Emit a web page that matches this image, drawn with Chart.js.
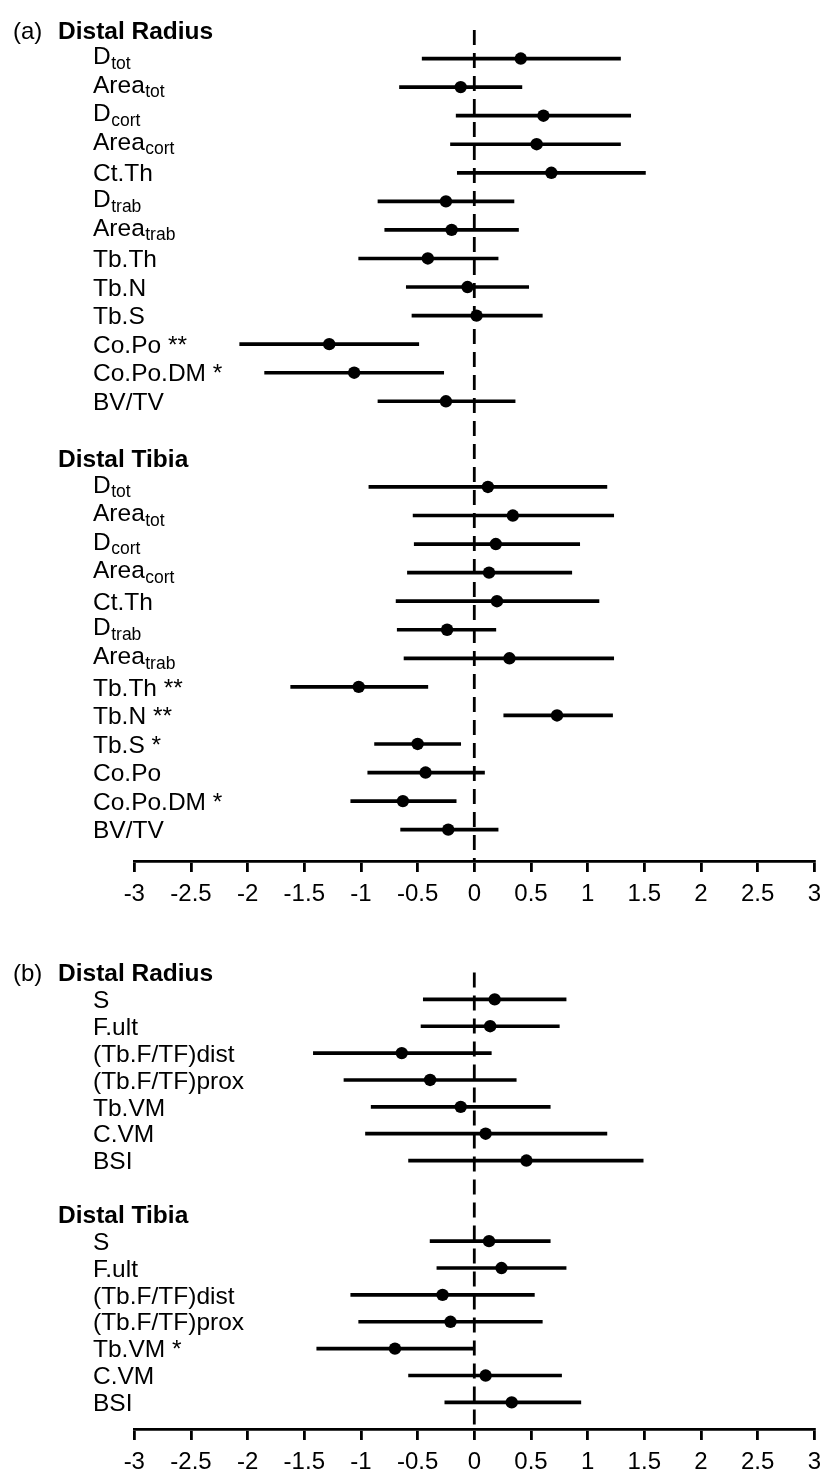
<!DOCTYPE html>
<html>
<head>
<meta charset="utf-8">
<script src="https://cdn.jsdelivr.net/npm/chart.js@4.4.1/dist/chart.umd.min.js"></script>
<style>
  body { margin: 0; background: #fff; }
  #wrap { position: relative; width: 822px; height: 1484px; }
  canvas { position: absolute; left: 0; }
</style>
</head>
<body>
<div id="wrap">
  <canvas id="chartA" width="822" height="916" style="top:0"></canvas>
  <canvas id="chartB" width="822" height="568" style="top:916px"></canvas>
</div>
<script>
// x axis
const tickValues = [-3, -2.5, -2, -1.5, -1, -0.5, 0, 0.5, 1, 1.5, 2, 2.5, 3];
const tickLabels = ['-3', '-2.5', '-2', '-1.5', '-1', '-0.5', '0', '0.5', '1', '1.5', '2', '2.5', '3'];
const refValue = 0;

// (a) Distal Radius
const aRadiusLabels = ['D_tot', 'Area_tot', 'D_cort', 'Area_cort', 'Ct.Th', 'D_trab', 'Area_trab',
  'Tb.Th', 'Tb.N', 'Tb.S', 'Co.Po **', 'Co.Po.DM *', 'BV/TV'];
const aRadiusEst = [0.41, -0.12, 0.61, 0.55, 0.68, -0.25, -0.20, -0.41, -0.06, 0.02, -1.28, -1.06, -0.25];
const aRadiusLo  = [-0.46, -0.66, -0.16, -0.21, -0.15, -0.85, -0.79, -1.02, -0.60, -0.55, -2.07, -1.85, -0.85];
const aRadiusHi  = [1.29, 0.42, 1.38, 1.29, 1.51, 0.35, 0.39, 0.21, 0.48, 0.60, -0.49, -0.27, 0.36];

// (a) Distal Tibia
const aTibiaLabels = ['D_tot', 'Area_tot', 'D_cort', 'Area_cort', 'Ct.Th', 'D_trab', 'Area_trab',
  'Tb.Th **', 'Tb.N **', 'Tb.S *', 'Co.Po', 'Co.Po.DM *', 'BV/TV'];
const aTibiaEst = [0.12, 0.34, 0.19, 0.13, 0.20, -0.24, 0.31, -1.02, 0.73, -0.50, -0.43, -0.63, -0.23];
const aTibiaLo  = [-0.93, -0.54, -0.53, -0.59, -0.69, -0.68, -0.62, -1.62, 0.26, -0.88, -0.94, -1.09, -0.65];
const aTibiaHi  = [1.17, 1.23, 0.93, 0.86, 1.10, 0.19, 1.23, -0.41, 1.22, -0.12, 0.09, -0.16, 0.21];

// (b) Distal Radius
const bRadiusLabels = ['S', 'F.ult', '(Tb.F/TF)dist', '(Tb.F/TF)prox', 'Tb.VM', 'C.VM', 'BSI'];
const bRadiusEst = [0.18, 0.14, -0.64, -0.39, -0.12, 0.10, 0.46];
const bRadiusLo  = [-0.45, -0.47, -1.42, -1.15, -0.91, -0.96, -0.58];
const bRadiusHi  = [0.81, 0.75, 0.15, 0.37, 0.67, 1.17, 1.49];

// (b) Distal Tibia
const bTibiaLabels = ['S', 'F.ult', '(Tb.F/TF)dist', '(Tb.F/TF)prox', 'Tb.VM *', 'C.VM', 'BSI'];
const bTibiaEst = [0.13, 0.24, -0.28, -0.21, -0.70, 0.10, 0.33];
const bTibiaLo  = [-0.39, -0.33, -1.09, -1.02, -1.39, -0.58, -0.26];
const bTibiaHi  = [0.67, 0.81, 0.53, 0.60, 0.00, 0.77, 0.94];

const FONT = '"Liberation Sans", Arial, Helvetica, sans-serif';

// draws the row labels (with subscripts) next to each row, using the y scale
const rowLabels = {
  id: 'rowLabels',
  afterDraw(chart, args, opts) {
    const ctx = chart.ctx;
    const y = chart.scales.y;
    ctx.save();
    ctx.fillStyle = '#000';
    ctx.textBaseline = 'alphabetic';
    ctx.textAlign = 'left';
    ctx.font = '24px ' + FONT;
    ctx.fillText(opts.tag, 13, y.getPixelForValue(0) + 8.6);
    opts.groups.forEach(g => {
      ctx.font = 'bold 24.5px ' + FONT;
      ctx.fillText(g.title, 58, y.getPixelForValue(g.start) + 8.8);
      g.labels.forEach((txt, i) => {
        const parts = txt.split('_');
        const py = y.getPixelForValue(g.start + 1 + i);
        const base = py + 8.7 - (parts[1] ? 3 : 0);
        ctx.font = '24.5px ' + FONT;
        ctx.fillText(parts[0], 93, base);
        if (parts[1]) {
          const w = ctx.measureText(parts[0]).width;
          ctx.font = '17.5px ' + FONT;
          ctx.fillText(parts[1], 93 + w + 0.5, base + 4.5);
        }
      });
    });
    ctx.restore();
  }
};

function groupDatasets(start, est, lo, hi) {
  return [
    {
      type: 'scatter',
      data: est.map((v, i) => ({ x: v, y: start + 1 + i })),
      pointRadius: 6.2,
      pointBackgroundColor: '#000',
      pointBorderWidth: 0,
      order: 0
    },
    {
      type: 'bar',
      indexAxis: 'y',
      grouped: false,
      data: lo.map((v, i) => ({ x: [v, hi[i]], y: start + 1 + i })),
      backgroundColor: '#000',
      borderWidth: 0,
      barThickness: 3,
      order: 1
    }
  ];
}

function makePanel(id, tag, groups, yMin, yMax) {
  let datasets = [];
  groups.forEach(g => { datasets = datasets.concat(groupDatasets(g.start, g.est, g.lo, g.hi)); });
  datasets.push({
    type: 'line',
    data: [{ x: refValue, y: 0 }, { x: refValue, y: yMax }],
    borderColor: '#000',
    borderWidth: 2.8,
    borderDash: [15, 8],
    pointRadius: 0,
    order: 2
  });
  new Chart(document.getElementById(id), {
    type: 'scatter',
    data: { datasets: datasets },
    options: {
      responsive: false,
      animation: false,
      devicePixelRatio: 1,
      layout: { padding: { left: 134.3, right: 7.7, top: 0, bottom: 0 } },
      plugins: {
        legend: { display: false },
        tooltip: { enabled: false },
        rowLabels: { tag: tag, groups: groups }
      },
      scales: {
        x: {
          type: 'linear',
          min: -3,
          max: 3,
          offset: false,
          position: 'bottom',
          afterBuildTicks: s => { s.ticks = tickValues.map(v => ({ value: v })); },
          ticks: {
            callback: (v, i) => tickLabels[i],
            color: '#000',
            font: { family: FONT, size: 24, lineHeight: 1.75 },
            padding: 1,
            maxRotation: 0,
            autoSkip: false
          },
          grid: { drawOnChartArea: false, drawTicks: true, tickLength: 11, color: '#000', lineWidth: 2.8 },
          border: { display: true, color: '#000', width: 2.8 }
        },
        y: { type: 'linear', reverse: true, offset: false, min: yMin, max: yMax, display: false }
      }
    },
    plugins: [rowLabels]
  });
}

// panel (a): rows 28.8 px apart, header row at y=24, axis at y=862 (axis block is 54 px)
makePanel('chartA', '(a)', [
  { title: 'Distal Radius', start: 0, labels: aRadiusLabels, est: aRadiusEst, lo: aRadiusLo, hi: aRadiusHi },
  { title: 'Distal Tibia', start: 15, labels: aTibiaLabels, est: aTibiaEst, lo: aTibiaLo, hi: aTibiaHi }
], -24 / 28.8, (862 - 24) / 28.8);

// panel (b): rows 27.25 px apart, header row at y=51 (canvas), axis at y=514
makePanel('chartB', '(b)', [
  { title: 'Distal Radius', start: 0, labels: bRadiusLabels, est: bRadiusEst, lo: bRadiusLo, hi: bRadiusHi },
  { title: 'Distal Tibia', start: 9, labels: bTibiaLabels, est: bTibiaEst, lo: bTibiaLo, hi: bTibiaHi }
], -51 / 27.25, (514 - 51) / 27.25);
</script>
</body>
</html>
